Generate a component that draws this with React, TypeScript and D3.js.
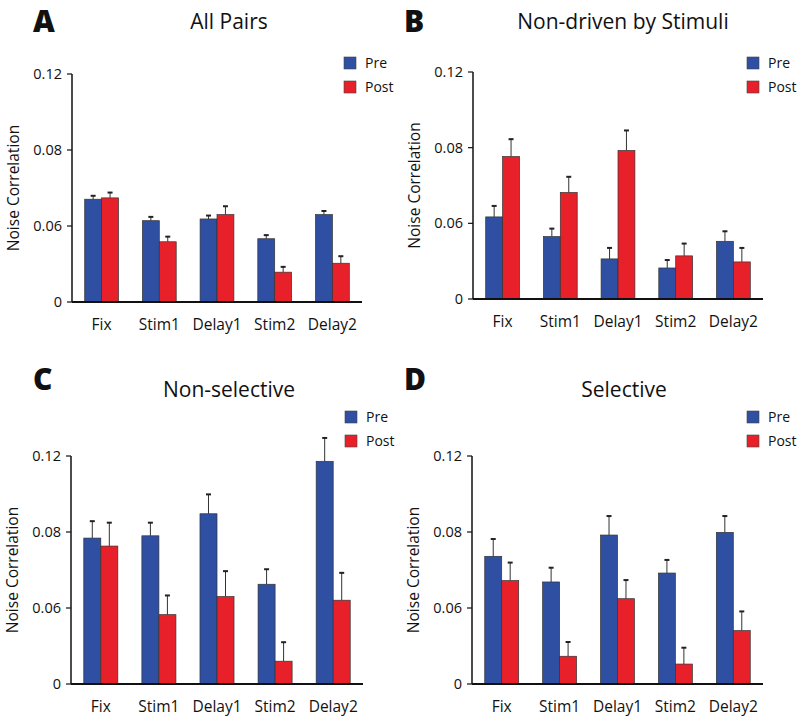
import React from "react";
import * as d3 from "d3";

const categories = ["Fix", "Stim1", "Delay1", "Stim2", "Delay2"];
const seriesNames = ["Pre", "Post"];
const tickValues = [0, 0.04, 0.08, 0.12];
const tickLabels = ["0", "0.06", "0.08", "0.12"];
const panelLetters = ["A", "B", "C", "D"];
const panelTitles = ["All Pairs", "Non-driven by Stimuli", "Non-selective", "Selective"];

const preA = [0.0541, 0.0428, 0.0437, 0.0333, 0.046];
const preErrA = [0.0018, 0.002, 0.0018, 0.0019, 0.0019];
const postA = [0.0548, 0.0317, 0.046, 0.0157, 0.0204];
const postErrA = [0.0028, 0.0027, 0.0044, 0.0028, 0.0037];

const preB = [0.0434, 0.033, 0.0212, 0.0164, 0.0305];
const preErrB = [0.0058, 0.0042, 0.0058, 0.0042, 0.0053];
const postB = [0.0753, 0.0563, 0.0785, 0.0228, 0.0196];
const postErrB = [0.0092, 0.0083, 0.0106, 0.0065, 0.0074];

const preC = [0.0768, 0.078, 0.0896, 0.0525, 0.1172];
const preErrC = [0.0089, 0.0069, 0.0102, 0.0079, 0.0123];
const postC = [0.0726, 0.0365, 0.046, 0.012, 0.0441];
const postErrC = [0.0123, 0.0101, 0.0134, 0.01, 0.0144];

const preD = [0.0672, 0.0537, 0.0784, 0.0584, 0.0798];
const preErrD = [0.0091, 0.0075, 0.01, 0.0069, 0.0086];
const postD = [0.0544, 0.0146, 0.0449, 0.0105, 0.0281];
const postErrD = [0.0095, 0.0075, 0.0098, 0.0086, 0.0101];

const panelData = [
  { pre: preA, preErr: preErrA, post: postA, postErr: postErrA },
  { pre: preB, preErr: preErrB, post: postB, postErr: postErrB },
  { pre: preC, preErr: preErrC, post: postC, postErr: postErrC },
  { pre: preD, preErr: preErrD, post: postD, postErr: postErrD },
];

const layouts = [
  { ax: 72, axEnd: 362, y0: 302, yTop: 74, titleX: 229, titleY: 29, letterX: 33, letterY: 32, legX: 344, legY: 63 },
  { ax: 473, axEnd: 763, y0: 299, yTop: 72, titleX: 623, titleY: 29, letterX: 404, letterY: 32, legX: 747, legY: 63 },
  { ax: 71, axEnd: 363, y0: 684, yTop: 456, titleX: 229, titleY: 397, letterX: 33, letterY: 390, legX: 345, legY: 417 },
  { ax: 472, axEnd: 763, y0: 684, yTop: 456, titleX: 624, titleY: 397, letterX: 404, letterY: 390, legX: 747, legY: 417 },
];

const BLUE = "#2f4fa2";
const RED = "#e8202a";
const colors = [BLUE, RED];
const FONT = "'Open Sans', 'Noto Sans', sans-serif";

function Panel({ idx }: { idx: number }) {
  const L = layouts[idx];
  const D = panelData[idx];
  const x = d3.scaleBand<string>().domain(categories).range([L.ax, L.axEnd]).paddingInner(0.414).paddingOuter(0.22);
  const xs = d3.scaleBand<string>().domain(seriesNames).range([0, x.bandwidth()]);
  const y = d3.scaleLinear().domain([0, 0.12]).range([L.y0, L.yTop]);
  const vals = [D.pre, D.post];
  const errs = [D.preErr, D.postErr];
  return (
    <g>
      <text x={L.letterX} y={L.letterY} fontFamily={FONT} fontWeight={800} fontSize={30} fill="#111">
        {panelLetters[idx]}
      </text>
      <text x={L.titleX} y={L.titleY} textAnchor="middle" fontFamily={FONT} fontSize={21} fill="#111">
        {panelTitles[idx]}
      </text>
      {seriesNames.map((s, i) => (
        <g key={s}>
          <rect x={L.legX} y={L.legY + i * 24 - 6} width={12} height={12} fill={colors[i]} stroke="#444" strokeWidth={0.6} />
          <text x={L.legX + 21} y={L.legY + i * 24 + 5} fontFamily={FONT} fontSize={14} fill="#111">
            {s}
          </text>
        </g>
      ))}
      {categories.map((c, ci) =>
        seriesNames.map((s, si) => {
          const v = vals[si][ci];
          const e = errs[si][ci];
          const bx = (x(c) as number) + (xs(s) as number);
          const bw = xs.bandwidth();
          const cx = bx + bw / 2;
          return (
            <g key={c + s}>
              <line x1={cx} x2={cx} y1={y(v)} y2={y(v + e)} stroke="#333" strokeWidth={1} />
              <line x1={cx - 2.5} x2={cx + 2.5} y1={y(v + e)} y2={y(v + e)} stroke="#222" strokeWidth={2} />
              <rect x={bx} y={y(v)} width={bw} height={L.y0 - y(v)} fill={colors[si]} stroke="#333" strokeWidth={0.7} />
            </g>
          );
        })
      )}
      <line x1={L.ax} x2={L.ax} y1={L.yTop} y2={L.y0} stroke="#111" strokeWidth={1.5} />
      <line x1={L.ax} x2={L.axEnd} y1={L.y0} y2={L.y0} stroke="#111" strokeWidth={2} />
      {tickValues.map((t, i) => (
        <g key={t}>
          <line x1={L.ax - 5} x2={L.ax} y1={y(t)} y2={y(t)} stroke="#111" strokeWidth={1.2} />
          <text x={L.ax - 10} y={y(t) + 5} textAnchor="end" fontFamily={FONT} fontSize={14.5} fill="#111">
            {tickLabels[i]}
          </text>
        </g>
      ))}
      {categories.map((c) => (
        <text key={c} x={(x(c) as number) + x.bandwidth() / 2} y={L.y0 + 28} textAnchor="middle" fontFamily={FONT} fontSize={15.5} fill="#111">
          {c}
        </text>
      ))}
      <text
        transform={`translate(${L.ax - 53},${(L.y0 + L.yTop) / 2}) rotate(-90)`}
        textAnchor="middle"
        fontFamily={FONT}
        fontSize={15.5}
        fill="#111"
      >
        Noise Correlation
      </text>
    </g>
  );
}

export default function App() {
  return (
    <svg width={800} height={718} style={{ display: "block", position: "absolute", left: 0, top: 0, background: "#fff" }}>
      {layouts.map((_, i) => (
        <Panel key={i} idx={i} />
      ))}
    </svg>
  );
}
